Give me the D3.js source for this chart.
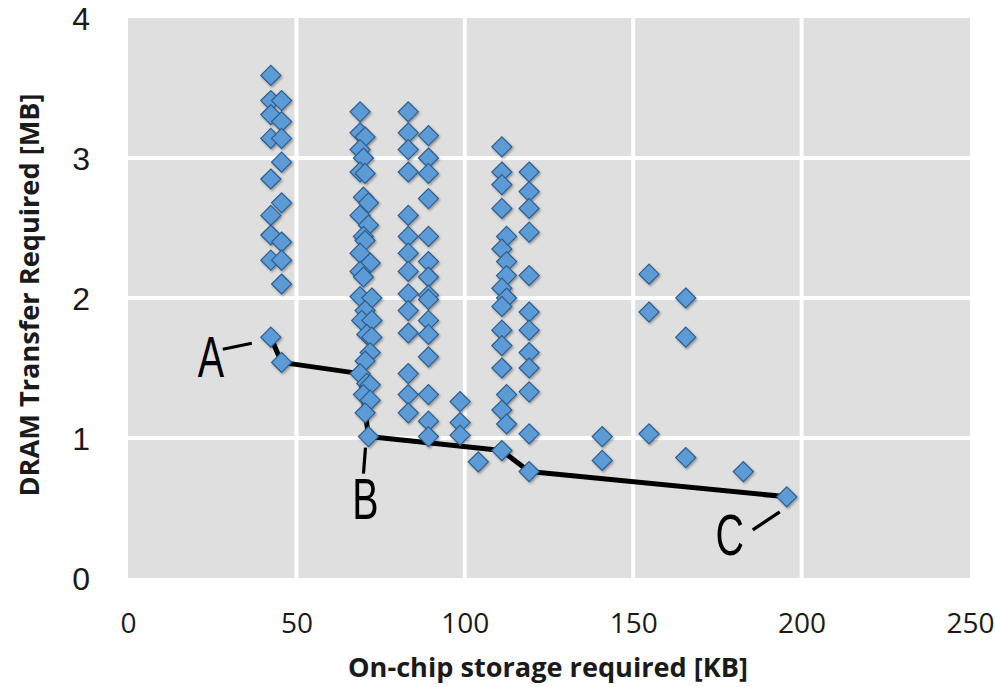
<!DOCTYPE html>
<html>
<head>
<meta charset="utf-8">
<script src="https://cdn.jsdelivr.net/npm/d3@7"></script>
<style>
  html, body { margin: 0; padding: 0; background: #ffffff; }
  svg { display: block; }
</style>
</head>
<body>
<svg id="chart" width="995" height="687"></svg>
<script>
// ---- data ----
const storageKB = [
  // column ~42-46 KB
  42.4, 42.4, 42.4, 42.4, 42.4, 42.4, 42.4, 42.4, 42.4,
  45.6, 45.6, 45.6, 45.6, 45.6, 45.6, 45.6, 45.6, 45.6,
  // column ~69-72 KB
  68.9, 68.9, 70.4, 68.9, 69.9, 68.9, 70.4, 69.9, 71.4, 68.9, 71.4,
  69.9, 70.4, 68.9, 71.9, 68.9, 69.9, 68.9, 72.4, 70.4, 69.4, 72.4,
  70.9, 72.4, 71.9, 70.4, 68.9, 70.9, 71.9, 69.9, 71.9, 70.4, 71.4,
  // column ~83 KB
  83.2, 83.2, 83.2, 83.2, 83.2, 83.2, 83.2, 83.2, 83.2, 83.2, 83.2, 83.2, 83.2, 83.2,
  // column ~89 KB
  89.2, 89.2, 89.2, 89.2, 89.2, 89.2, 89.2, 89.2, 89.2, 89.2, 89.2, 89.2, 89.2, 89.2, 89.2,
  // ~99-104 KB
  98.6, 98.6, 98.6, 104.0,
  // column ~111 KB
  111.0, 111.0, 111.0, 111.0, 112.4, 111.0, 112.4, 112.4, 111.0,
  112.4, 111.0, 111.0, 111.0, 111.0, 112.4, 111.0, 112.4, 111.0,
  // column ~119 KB
  119.1, 119.1, 119.1, 119.1, 119.1, 119.1, 119.1, 119.1, 119.1, 119.1, 119.1, 119.1,
  // right side
  140.8, 140.8, 154.7, 154.7, 154.7, 165.6, 165.6, 165.6, 182.7, 195.6
];
const dramMB = [
  3.59, 3.41, 3.31, 3.14, 2.85, 2.59, 2.45, 2.27, 1.72,
  3.41, 3.26, 3.14, 2.97, 2.68, 2.40, 2.27, 2.10, 1.54,
  3.33, 3.18, 3.15, 3.06, 3.00, 2.90, 2.89, 2.72, 2.68, 2.59, 2.52,
  2.44, 2.41, 2.32, 2.25, 2.19, 2.15, 2.01, 2.00, 1.91, 1.84, 1.84,
  1.74, 1.72, 1.61, 1.55, 1.46, 1.39, 1.38, 1.31, 1.27, 1.18, 1.01,
  3.33, 3.18, 3.06, 2.90, 2.59, 2.44, 2.32, 2.19, 2.03, 1.91, 1.75, 1.46, 1.31, 1.18,
  3.16, 3.00, 2.89, 2.71, 2.44, 2.26, 2.15, 2.02, 1.99, 1.84, 1.74, 1.58, 1.31, 1.12, 1.01,
  1.26, 1.11, 1.02, 0.83,
  3.08, 2.90, 2.81, 2.64, 2.44, 2.35, 2.26, 2.16, 2.07,
  2.00, 1.94, 1.77, 1.66, 1.50, 1.31, 1.20, 1.10, 0.91,
  2.90, 2.76, 2.64, 2.47, 2.16, 1.90, 1.77, 1.61, 1.50, 1.33, 1.03, 0.76,
  1.01, 0.84, 2.17, 1.90, 1.03, 2.00, 1.72, 0.86, 0.76, 0.58
];
// Pareto frontier
const paretoKB = [42.4, 45.6, 68.9, 71.4, 111.0, 119.1, 195.6];
const paretoMB = [1.72, 1.54, 1.46, 1.01, 0.91, 0.76, 0.58];
// annotated points
const annotLabels = ["A", "B", "C"];
const annotKB = [42.4, 71.4, 195.6];
const annotMB = [1.72, 1.01, 0.58];

const xTicks = [0, 50, 100, 150, 200, 250];
const yTicks = [0, 1, 2, 3, 4];
const xTitle = "On-chip storage required [KB]";
const yTitle = "DRAM Transfer Required [MB]";

// ---- layout ----
const svg = d3.select("#chart");
const plot = { left: 128, right: 970, top: 18, bottom: 578 };

const x = d3.scaleLinear().domain([0, 250]).range([plot.left, plot.right]);
const y = d3.scaleLinear().domain([0, 4]).range([plot.bottom, plot.top]);

// drop shadow for markers
const defs = svg.append("defs");
const f = defs.append("filter").attr("id", "shadow")
  .attr("x", "-50%").attr("y", "-50%").attr("width", "200%").attr("height", "200%");
f.append("feDropShadow").attr("dx", 1.2).attr("dy", 1.5).attr("stdDeviation", 1.2)
  .attr("flood-color", "#000").attr("flood-opacity", 0.35);

// plot background
svg.append("rect")
  .attr("x", plot.left).attr("y", plot.top)
  .attr("width", plot.right - plot.left).attr("height", plot.bottom - plot.top)
  .attr("fill", "#dfdfdf");

// gridlines (white)
const grid = svg.append("g");
grid.selectAll("line.v").data(xTicks.filter(d => d > 0 && d < 250)).enter()
  .append("line")
  .attr("x1", d => x(d)).attr("x2", d => x(d))
  .attr("y1", plot.top).attr("y2", plot.bottom)
  .attr("stroke", "#ffffff").attr("stroke-width", 4);
grid.selectAll("line.h").data(yTicks.filter(d => d > 0 && d < 4)).enter()
  .append("line")
  .attr("x1", plot.left).attr("x2", plot.right)
  .attr("y1", d => y(d)).attr("y2", d => y(d))
  .attr("stroke", "#ffffff").attr("stroke-width", 4);

// axes (tick labels only)
const xAxis = d3.axisBottom(x).tickValues(xTicks).tickFormat(d3.format("d")).tickSize(0).tickPadding(0);
const gx = svg.append("g").attr("transform", `translate(0, ${plot.bottom})`).call(xAxis);
gx.select(".domain").remove();
gx.selectAll("text")
  .attr("y", 45).attr("dy", "0.36em")
  .attr("font-family", "'Open Sans', sans-serif").attr("font-size", 28)
  .attr("fill", "#1a1a1a");

const yAxis = d3.axisLeft(y).tickValues(yTicks).tickFormat(d3.format("d")).tickSize(0).tickPadding(0);
const gy = svg.append("g").attr("transform", `translate(${plot.left}, 0)`).call(yAxis);
gy.select(".domain").remove();
gy.selectAll("text")
  .attr("x", -38).attr("dy", "0.36em")
  .attr("font-family", "'Liberation Sans', Arial, sans-serif").attr("font-size", 32)
  .attr("fill", "#1a1a1a");

// axis titles
svg.append("text")
  .attr("x", 548).attr("y", 677)
  .attr("text-anchor", "middle")
  .attr("font-family", "'Open Sans', sans-serif").attr("font-weight", "bold")
  .attr("font-size", 27)
  .attr("textLength", 400).attr("lengthAdjust", "spacingAndGlyphs")
  .attr("fill", "#1a1a1a")
  .text(xTitle);

svg.append("text")
  .attr("transform", `translate(39, ${295}) rotate(-90)`)
  .attr("text-anchor", "middle")
  .attr("font-family", "'Open Sans', sans-serif").attr("font-weight", "bold")
  .attr("font-size", 27)
  .attr("textLength", 403).attr("lengthAdjust", "spacingAndGlyphs")
  .attr("fill", "#1a1a1a")
  .text(yTitle);

// Pareto line
const line = d3.line().x(d => x(d[0])).y(d => y(d[1]));
svg.append("path")
  .datum(paretoKB.map((d, i) => [d, paretoMB[i]]))
  .attr("d", line)
  .attr("fill", "none").attr("stroke", "#000").attr("stroke-width", 5)
  .attr("stroke-linejoin", "round");

// markers (diamonds)
const pts = storageKB.map((d, i) => [d, dramMB[i]]);
const diamond = "M0,-10 L10,0 L0,10 L-10,0 Z";
svg.append("g").attr("filter", "url(#shadow)")
  .selectAll("path").data(pts).enter().append("path")
  .attr("d", diamond)
  .attr("transform", d => `translate(${x(d[0])}, ${y(d[1])})`)
  .attr("fill", "#5b9bd5").attr("stroke", "#2f5d8c").attr("stroke-width", 1.2);

// annotations A, B, C (offsets relative to their points)
const annotStyle = [
  { lx: -60, ly: 40, l1: [-48, 12], l2: [-19, 6] },
  { lx: -3, ly: 82, l1: [-3, 11], l2: [-5, 37] },
  { lx: -57, ly: 58, l1: [-34, 33], l2: [-7, 15] }
];
annotLabels.forEach((lab, i) => {
  const px = x(annotKB[i]), py = y(annotMB[i]), s = annotStyle[i];
  svg.append("line")
    .attr("x1", px + s.l1[0]).attr("y1", py + s.l1[1])
    .attr("x2", px + s.l2[0]).attr("y2", py + s.l2[1])
    .attr("stroke", "#000").attr("stroke-width", 3.2);
  svg.append("text")
    .attr("transform", `translate(${px + s.lx}, ${py + s.ly}) scale(0.68, 1)`)
    .attr("text-anchor", "middle")
    .attr("font-family", "'Liberation Sans', Arial, sans-serif")
    .attr("font-size", 58)
    .attr("fill", "#000")
    .text(lab);
});
</script>
</body>
</html>
